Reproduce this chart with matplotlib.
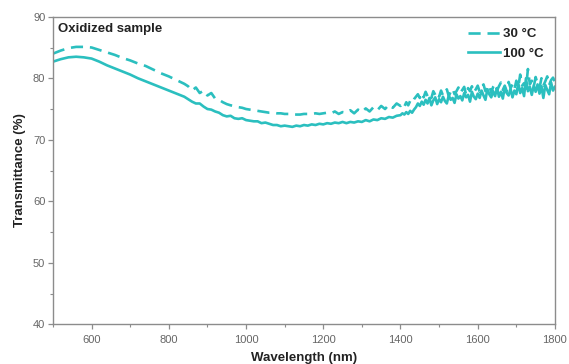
import numpy as np
import matplotlib
matplotlib.use("Agg")
import matplotlib.pyplot as plt
from matplotlib.ticker import MultipleLocator

plt.rcParams['font.family'] = ['Liberation Sans', 'DejaVu Sans']

# Wavelength grid (nm)
wavelength = np.concatenate([np.arange(500, 850, 20),
                             np.arange(850, 1405, 10),
                             np.arange(1405, 1801, 5)])

# 30 °C (dashed)
t30_smooth = [84.0, 84.5, 84.9, 85.1, 85.1, 85.0, 84.6, 84.2, 83.8, 83.3, 82.9, 82.4,
              82.0, 81.4, 80.8, 80.3, 79.7, 79.1]
t30_mid = [78.7, 78.0, 78.5, 77.6, 78.0, 77.2, 77.6, 76.7, 76.5, 76.1,
           75.8, 75.6, 75.5, 75.3, 75.2, 75.0, 74.9, 74.8, 74.7, 74.6,
           74.5, 74.4, 74.4, 74.3, 74.3, 74.2, 74.2, 74.1, 74.1, 74.1,
           74.2, 74.2, 74.2, 74.3, 74.2, 74.3, 74.4, 74.3, 74.6, 74.2,
           74.5, 74.4, 74.8, 74.3, 74.9, 74.5, 75.1, 74.6, 75.3, 74.8,
           75.5, 75.0, 75.7, 75.2, 75.9, 75.5]
t30_noisy = [75.9, 75.4, 76.1, 75.6, 76.3, 76.0, 76.6, 77.0, 77.4, 76.8,
             77.6, 76.9, 77.8, 77.1, 77.5, 76.8, 77.9, 77.3, 77.7, 77.0,
             78.0, 77.2, 77.6, 78.2, 77.1, 77.8, 78.3, 77.4, 77.9, 78.5,
             77.6, 78.1, 78.6, 77.3, 78.4, 77.9, 78.7, 77.7, 78.2, 78.8,
             77.8, 78.5, 79.0, 77.9, 78.3, 78.9, 77.6, 78.6, 79.1, 78.0,
             78.7, 79.3, 78.1, 78.8, 77.9, 79.4, 78.4, 79.0, 78.2, 79.6,
             78.5, 80.6, 78.8, 79.2, 78.3, 81.5, 79.0, 79.6, 78.6, 80.2,
             79.1, 78.4, 80.0, 78.8, 79.5, 80.3, 78.9, 79.7, 80.1, 79.4]

# 100 °C (solid)
t100_smooth = [82.7, 83.1, 83.4, 83.5, 83.4, 83.2, 82.7, 82.1, 81.6, 81.1, 80.6, 80.0,
               79.5, 79.0, 78.5, 78.0, 77.5, 77.0]
t100_mid = [76.6, 76.2, 75.9, 75.9, 75.4, 75.0, 74.9, 74.6, 74.4, 74.0,
            73.8, 73.9, 73.5, 73.4, 73.5, 73.2, 73.1, 73.0, 73.0, 72.7,
            72.8, 72.6, 72.4, 72.4, 72.2, 72.3, 72.2, 72.1, 72.3, 72.2,
            72.4, 72.3, 72.5, 72.4, 72.6, 72.5, 72.7, 72.6, 72.8, 72.7,
            72.9, 72.7, 72.9, 72.8, 73.0, 72.9, 73.2, 73.0, 73.3, 73.2,
            73.5, 73.4, 73.7, 73.6, 73.9, 74.0]
t100_noisy = [74.3, 74.1, 74.5, 74.2, 74.7, 74.4, 74.9, 75.3, 75.9, 75.5,
              76.2, 75.7, 76.5, 75.9, 76.8, 75.6, 76.4, 76.9, 75.8, 76.6,
              76.1, 77.0, 76.3, 75.9, 77.2, 76.5, 76.8, 76.0, 77.4, 76.7,
              77.1, 76.4, 77.6, 76.9, 77.3, 76.2, 77.8, 77.0, 76.6, 77.5,
              76.8, 78.0, 77.2, 76.5, 78.2, 77.4, 76.9, 77.9, 77.1, 78.4,
              77.0, 77.8, 76.7, 78.5, 77.6, 77.2, 78.3, 76.9, 78.0, 77.4,
              79.2, 77.6, 78.4, 77.1, 80.0, 77.9, 78.6, 77.3, 78.8, 77.8,
              79.0, 77.5, 78.7, 76.8, 78.9, 78.1, 77.4, 79.3, 78.0, 78.6]

t30 = np.array(t30_smooth + t30_mid + t30_noisy)
t100 = np.array(t100_smooth + t100_mid + t100_noisy)

color = '#2bbfbf'
grey = '#8c8c8c'

fig = plt.figure(figsize=(5.69, 3.64), dpi=100)
ax = fig.add_axes([0.0931, 0.109, 0.8822, 0.845])

ax.plot(wavelength, t30, color=color, lw=1.9, dashes=(4.6, 2.6), label='30 °C')
ax.plot(wavelength, t100, color=color, lw=1.9, label='100 °C')

ax.set_xlim(500, 1800)
ax.set_ylim(40, 90)
ax.xaxis.set_major_locator(MultipleLocator(200))
ax.xaxis.set_minor_locator(MultipleLocator(100))
ax.yaxis.set_major_locator(MultipleLocator(10))
ax.yaxis.set_minor_locator(MultipleLocator(5))

for s in ax.spines.values():
    s.set_color(grey)
    s.set_linewidth(1.0)
ax.tick_params(which='both', direction='out', color=grey, labelcolor='#666666',
               labelsize=8)
ax.tick_params(which='major', length=3.5, width=0.9)
ax.tick_params(which='minor', length=2, width=0.8)
ax.tick_params(axis='y', pad=2)
ax.tick_params(axis='x', pad=4)

ax.set_xlabel('Wavelength (nm)', fontsize=9.5, fontweight='bold', color='#222222', labelpad=5)
ax.set_ylabel('Transmittance (%)', fontsize=9.5, fontweight='bold', color='#222222', labelpad=5)

ax.text(0.010, 0.980, 'Oxidized sample', transform=ax.transAxes, ha='left', va='top',
        fontsize=9.5, fontweight='bold', color='#222222')

leg = ax.legend(loc='upper right', frameon=False, handlelength=2.4, handletextpad=0.25,
                labelspacing=0.55, borderaxespad=0.45, prop={'size': 9.5, 'weight': 'bold'})
for t in leg.get_texts():
    t.set_color('#222222')

fig.savefig('out.png', dpi=100)
